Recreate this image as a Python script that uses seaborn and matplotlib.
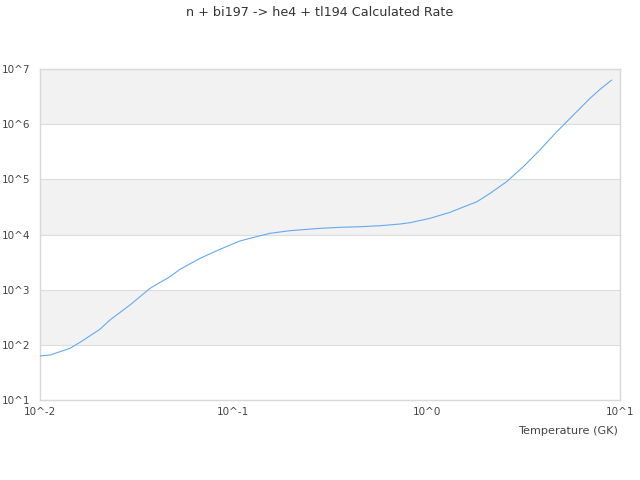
import matplotlib
matplotlib.use("Agg")
import matplotlib.pyplot as plt
import seaborn as sns
import pandas as pd
import math
from matplotlib.ticker import FuncFormatter, FixedLocator, NullLocator

title = "n + bi197 -> he4 + tl194 Calculated Rate"
xlabel = "Temperature (GK)"

temperature = [0.0100, 0.0113, 0.0143, 0.0161, 0.0204, 0.0230, 0.0292, 0.0371,
               0.0470, 0.0530, 0.0673, 0.0853, 0.108, 0.122, 0.155, 0.196,
               0.281, 0.356, 0.452, 0.574, 0.728, 0.820, 1.04, 1.32, 1.49,
               1.82, 2.13, 2.59, 3.16, 3.85, 4.71, 5.74, 7.00, 7.89, 9.06]
rate = [62.8, 65.5, 86.5, 111, 191, 282, 527, 1059,
        1718, 2339, 3698, 5395, 7621, 8531, 10520, 11720,
        12940, 13490, 13840, 14420, 15490, 16370, 19630, 25230, 29850,
        39260, 55850, 90570, 169400, 340400, 729400, 1466000, 2944000, 4285000, 6310000]

xticks = [1e-2, 1e-1, 1e0, 1e1]
yticks = [1e1, 1e2, 1e3, 1e4, 1e5, 1e6, 1e7]

df = pd.DataFrame({"T": temperature, "rate": rate})

sns.set_theme(style="white")
plt.rcParams['font.family'] = ['DejaVu Sans']

fig = plt.figure(figsize=(6.4, 4.8), dpi=100)
ax = fig.add_axes([40/640, 1 - 400/480, 580/640, 331/480])

ax.set_xscale("log")
ax.set_yscale("log")
ax.set_xlim(1e-2, 1e1)
ax.set_ylim(1e1, 1e7)

# alternating bands
for i in range(len(yticks) - 1):
    if i % 2 == 1:
        ax.axhspan(yticks[i], yticks[i + 1], color="#f2f2f2", zorder=0, lw=0)
for y in yticks:
    ax.axhline(y, color="#dcdcdc", lw=0.8, zorder=1)

sns.lineplot(data=df, x="T", y="rate", ax=ax, color="#64aaf0", lw=0.8, zorder=3)

def fmt(v, pos):
    return "10^%d" % round(math.log10(v))

ax.xaxis.set_major_locator(FixedLocator(xticks))
ax.yaxis.set_major_locator(FixedLocator(yticks))
ax.xaxis.set_minor_locator(NullLocator())
ax.yaxis.set_minor_locator(NullLocator())
ax.xaxis.set_major_formatter(FuncFormatter(fmt))
ax.yaxis.set_major_formatter(FuncFormatter(fmt))
ax.tick_params(axis="both", length=0, labelsize=7.5, colors="#444444")
ax.tick_params(axis="x", pad=5)
ax.tick_params(axis="y", pad=7)

for s in ax.spines.values():
    s.set_color("#d8d8d8")
    s.set_linewidth(1.0)

ax.set_ylabel("")
ax.set_xlabel(xlabel, fontsize=8.1, color="#444444", labelpad=6)
ax.xaxis.set_label_coords(618/580 - 40/580, -0.07)
ax.xaxis.label.set_horizontalalignment("right")
ax.xaxis.set_label_coords((618 - 40) / 580, -(431 - 400) / 331, transform=ax.transAxes)
ax.xaxis.label.set_verticalalignment("center")

fig.suptitle(title, fontsize=9.2, color="#333333", y=1 - 12/480, va="center")

fig.savefig("out.png", dpi=100)
